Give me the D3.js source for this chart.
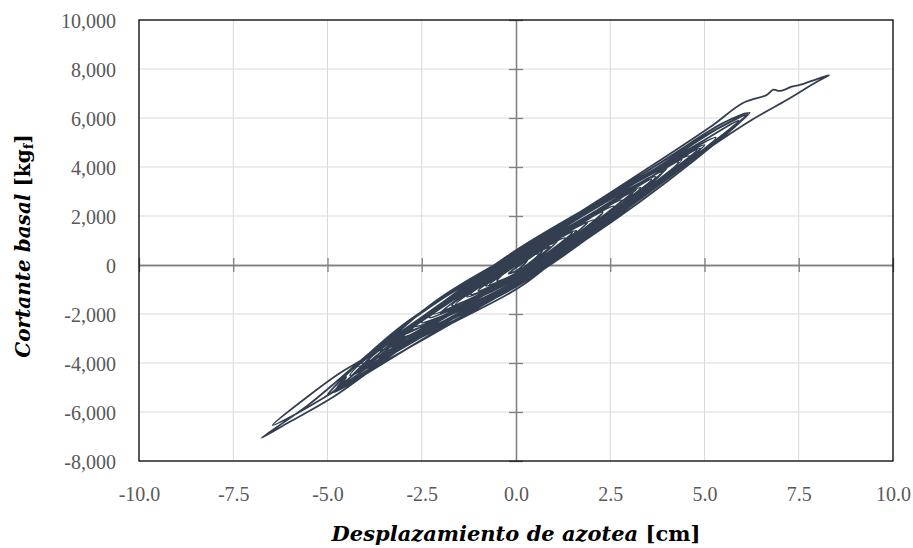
<!DOCTYPE html>
<html>
<head>
<meta charset="utf-8">
<script src="https://cdn.jsdelivr.net/npm/d3@7"></script>
<style>
  html, body { margin: 0; padding: 0; background: #ffffff; }
  svg { display: block; }
</style>
</head>
<body>
<svg id="chart" width="913" height="548"></svg>
<script>
// ---------------- DATA ----------------
const xTicks = [-10, -7.5, -5, -2.5, 0, 2.5, 5, 7.5, 10];
const xTickLabels = ["-10.0", "-7.5", "-5.0", "-2.5", "0.0", "2.5", "5.0", "7.5", "10.0"];
const yTicks = [-8000, -6000, -4000, -2000, 0, 2000, 4000, 6000, 8000, 10000];
const yTickLabels = ["-8,000", "-6,000", "-4,000", "-2,000", "0", "2,000", "4,000", "6,000", "8,000", "10,000"];

// Hysteresis path, time ordered: [roof displacement (cm), base shear (kgf)]
const hysteresis = [
  [0, 0], [0.3, 330], [0.6, 450], [-0.05, -380], [-0.7, -800], [0.1, 80], [0.9, 750], [-0.05, -400],
  [-1.0, -1050], [0.15, 240], [1.3, 1100], [0.05, -380], [-1.2, -1200], [0.2, 320], [1.6, 1400], [-0.05, -500],
  [-1.7, -1650], [0.2, 380], [2.1, 1850], [0.1, -480], [-1.9, -1850], [0.35, 560], [2.6, 2400], [0.05, -600],
  [-2.5, -2350], [0.3, 560], [3.1, 2950], [0.1, -620], [-2.9, -2700], [-0.3, -50], [2.3, 2150], [-0.5, -1150],
  [-3.3, -3130], [0.2, 650], [3.7, 3600], [0.05, -700], [-3.6, -3460], [0.35, 800], [4.3, 4200], [0.1, -750],
  [-4.1, -4010], [0.45, 900], [5.0, 4900], [2.4, 1900], [0.2, -800], [-0.5, -1430], [-2.1, -2700], [-4.85, -5200],
  [-4.62, -4830], [-4.5, -4570], [-4.75, -5000], [-2.0, -1600], [0.7, 1200], [3.5, 3850], [5.5, 5700], [6.2, 6220],
  [4.0, 3500], [0, -800], [-4.0, -4400], [-5.8, -6050], [-6.45, -6530], [-5.54, -5388], [-4.67, -4408], [-3.79, -3592],
  [0, 600], [3.5, 3750], [5.4, 5600], [6.1, 6100], [4.0, 3400], [0.75, -50], [-2.5, -2800], [-4.0, -4350],
  [-4.6, -4950], [-2.2, -1550], [0.35, 800], [3.0, 3250], [5.3, 5200], [3.0, 2400], [0.75, 0], [-1.8, -2300],
  [-4.1, -4300], [-3.7, -3750], [-4.0, -4200], [-2.0, -1650], [0.3, 700], [2.6, 2900], [4.6, 4450], [2.5, 1850],
  [0.1, -800], [-2.4, -2750], [-4.4, -4500], [-2.5, -1900], [0, 500], [2.5, 2950], [5.15, 5630], [6.02, 6610],
  [6.65, 6940], [6.83, 7160], [6.95, 7110], [7.05, 7120], [7.18, 7190], [7.31, 7280], [7.53, 7350], [8.0, 7600],
  [8.3, 7750], [7.98, 7480], [7.18, 6735], [6.25, 5918], [5.0, 4650], [2.5, 1900], [0, -850], [-2.5, -2850],
  [-4.85, -5390], [-6.0, -6400], [-6.75, -7060], [-5.5, -5700], [-3.0, -2500], [0, 550], [3.0, 3300], [5.0, 5100],
  [5.9, 5900], [4.0, 3550], [0.5, -400], [-3.0, -3200], [-4.5, -4800], [-5.0, -5300], [-3.0, -2450], [0.5, 900],
  [4.0, 4350], [5.5, 5800], [6.15, 6200], [4.5, 4150], [1.0, 200], [-2.0, -2450], [-3.9, -3900], [-2.0, -1600],
  [0.5, 850], [3.0, 3250], [4.9, 4750], [3.0, 2450], [0.9, 100], [-1.5, -2000], [-3.1, -2950], [-1.5, -1050],
  [0.4, 700], [2.2, 2400], [3.9, 3800], [2.2, 1600], [0.6, -200], [-1.1, -1600], [-2.7, -2500], [0.3, 550],
  [3.3, 3150], [0.5, -100], [-2.3, -2150], [0.25, 450], [2.8, 2650], [0.4, -150], [-2.0, -1950], [0.15, 330],
  [2.3, 2150], [0.35, -150], [-1.6, -1600], [0.15, 280], [1.9, 1750], [0.3, -150], [-1.3, -1300], [0.1, 180],
  [1.5, 1350], [0.25, -150], [-1.0, -1050], [0.05, 120], [1.1, 1000], [0.15, -220], [-0.8, -850], [-0.05, 0],
  [0.7, 600], [0.1, -250], [-0.5, -650], [-0.1, -50], [0.3, 200], [0.05, -200], [-0.2, -350], [0.1, 0],
  [1.6, 1550], [3.2, 3100], [1.0, 550], [-1.5, -1750], [-3.4, -3300], [-1.0, -750], [1.5, 1550], [4.0, 3950],
  [1.8, 1300], [-1.0, -1300], [-3.0, -2850], [-0.8, -550], [2.0, 2100], [4.4, 4300], [2.0, 1450], [-0.5, -900],
  [-3.6, -3500], [-1.0, -700], [1.5, 1600], [3.6, 3500], [1.2, 700], [-1.5, -1800], [-4.2, -4150], [-1.5, -1150],
  [2.0, 2100], [4.8, 4700], [2.5, 2000], [0, -450], [-2.2, -2000], [0, 200], [1.0, 900]
];

// ---------------- LAYOUT ----------------
const svg = d3.select("#chart");
const plot = { left: 139, right: 893, top: 20, bottom: 461 };

const x = d3.scaleLinear().domain([-10, 10]).range([plot.left, plot.right]);
const y = d3.scaleLinear().domain([-8000, 10000]).range([plot.bottom, plot.top]);

const gridColor = "#d9d9d9";
const axisColor = "#808080";
const labelColor = "#595959";
const lineColor = "#333f50";
const tickFont = "'Liberation Serif', 'Times New Roman', serif";
const titleFont = "'DejaVu Serif', serif";

// Gridlines
svg.append("g")
  .selectAll("line")
  .data(xTicks.filter(d => d !== 0 && d !== -10 && d !== 10))
  .join("line")
  .attr("x1", d => x(d)).attr("x2", d => x(d))
  .attr("y1", plot.top).attr("y2", plot.bottom)
  .attr("stroke", gridColor).attr("stroke-width", 1);

svg.append("g")
  .selectAll("line")
  .data(yTicks.filter(d => d !== 0 && d !== -8000 && d !== 10000))
  .join("line")
  .attr("x1", plot.left).attr("x2", plot.right)
  .attr("y1", d => y(d)).attr("y2", d => y(d))
  .attr("stroke", gridColor).attr("stroke-width", 1);

// Central axes with cross ticks
function styleAxis(g) {
  g.select(".domain").attr("stroke", axisColor).attr("stroke-width", 1.3);
  g.selectAll(".tick line").attr("stroke", axisColor).attr("stroke-width", 1.3);
  g.selectAll(".tick text").remove();
}
svg.append("g").attr("transform", `translate(0,${y(0)})`)
  .call(d3.axisBottom(x).tickValues(xTicks).tickSizeInner(7).tickSizeOuter(0))
  .call(styleAxis);
svg.append("g").attr("transform", `translate(0,${y(0)})`)
  .call(d3.axisTop(x).tickValues(xTicks).tickSizeInner(7).tickSizeOuter(0))
  .call(styleAxis);
svg.append("g").attr("transform", `translate(${x(0)},0)`)
  .call(d3.axisLeft(y).tickValues(yTicks).tickSizeInner(7).tickSizeOuter(0))
  .call(styleAxis);
svg.append("g").attr("transform", `translate(${x(0)},0)`)
  .call(d3.axisRight(y).tickValues(yTicks).tickSizeInner(7).tickSizeOuter(0))
  .call(styleAxis);

// Hysteresis curve
const line = d3.line()
  .x(d => x(d[0]))
  .y(d => y(d[1]))
  .curve(d3.curveCatmullRom.alpha(0.5));

svg.append("path")
  .datum(hysteresis)
  .attr("d", line)
  .attr("fill", "none")
  .attr("stroke", lineColor)
  .attr("stroke-width", 1.8)
  .attr("stroke-linejoin", "round");

// Frame
svg.append("rect")
  .attr("x", plot.left).attr("y", plot.top)
  .attr("width", plot.right - plot.left).attr("height", plot.bottom - plot.top)
  .attr("fill", "none").attr("stroke", "#000000").attr("stroke-width", 1.3);

// Tick labels (outer axes, no lines)
const xLab = svg.append("g")
  .attr("transform", `translate(0,${plot.bottom + 33})`)
  .call(d3.axisBottom(x).tickValues(xTicks).tickSize(0).tickPadding(0)
    .tickFormat((d, i) => xTickLabels[i]));
xLab.select(".domain").remove();
xLab.selectAll("text")
  .attr("y", 0).attr("dy", "0.35em")
  .attr("fill", labelColor)
  .style("font-family", tickFont).style("font-size", "20px");

const yLab = svg.append("g")
  .attr("transform", `translate(${plot.left - 23},0)`)
  .call(d3.axisLeft(y).tickValues(yTicks).tickSize(0).tickPadding(0)
    .tickFormat((d, i) => yTickLabels[i]));
yLab.select(".domain").remove();
yLab.selectAll("text")
  .attr("x", 0).attr("dy", "0.35em")
  .attr("fill", labelColor)
  .style("font-family", tickFont).style("font-size", "20px");

// Axis titles
const xt = svg.append("text")
  .attr("x", (plot.left + plot.right) / 2)
  .attr("y", 541)
  .attr("text-anchor", "middle")
  .attr("fill", "#000")
  .style("font-family", titleFont).style("font-size", "21px").style("font-weight", "bold");
xt.append("tspan").style("font-style", "italic").text("Desplazamiento de azotea");
xt.append("tspan").text(" [cm]");

const yt = svg.append("text")
  .attr("transform", `translate(30,${246}) rotate(-90)`)
  .attr("text-anchor", "middle")
  .attr("fill", "#000")
  .style("font-family", titleFont).style("font-size", "20px").style("font-weight", "bold");
yt.append("tspan").style("font-style", "italic").text("Cortante basal");
yt.append("tspan").text(" [kg");
yt.append("tspan").attr("baseline-shift", "-25%").style("font-size", "13px").text("f");
yt.append("tspan").text("]");
</script>
</body>
</html>
